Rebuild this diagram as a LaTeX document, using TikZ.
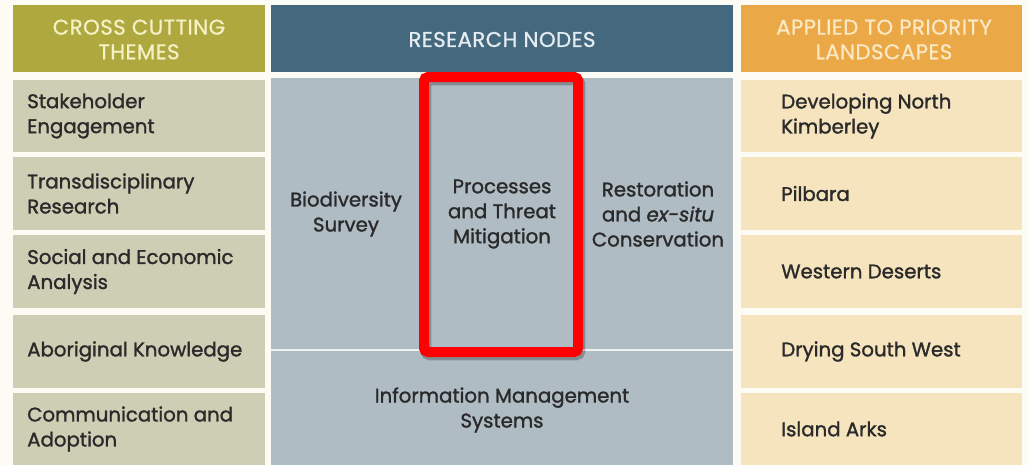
\documentclass[tikz,border=0pt]{standalone}
\usepackage{fontspec}
\setmainfont{Poppins}
\newfontfamily\cellfont{Poppins}[FakeBold=1.4]
\newfontfamily\headfont{Poppins}[FakeBold=0.8, LetterSpace=2]
\usetikzlibrary{positioning}

\definecolor{themehead}{HTML}{AEA83F}
\definecolor{themecell}{HTML}{CECEB5}
\definecolor{nodehead}{HTML}{44697F}
\definecolor{nodecell}{HTML}{B0BCC4}
\definecolor{landhead}{HTML}{EAA846}
\definecolor{landcell}{HTML}{F5E4BE}
\definecolor{themeink}{HTML}{F5F1C6}
\definecolor{nodeink}{HTML}{E6EDF1}
\definecolor{landink}{HTML}{FBE8C4}
\definecolor{bodytext}{HTML}{2A2A2A}
\definecolor{paper}{HTML}{FCFBF4}

\tikzset{
  headtext/.style={align=center, inner sep=0pt, font=\headfont\fontsize{16}{18.5}\selectfont},
  celltext/.style={anchor=west, align=left, text=bodytext, inner sep=0pt,
    font=\cellfont\fontsize{14.8}{18.75}\selectfont},
  midtext/.style={align=center, text=bodytext, inner sep=0pt,
    font=\cellfont\fontsize{14.8}{18.75}\selectfont}
}

\begin{document}
\begin{tikzpicture}[x=0.75pt,y=-0.75pt]
\fill[paper] (0,0) rectangle (1028,465);
\useasboundingbox (0,0) rectangle (1028,465);

% headers
\fill[themehead] (13,5) rectangle (265,72);
\fill[nodehead] (271,5) rectangle (733,72);
\fill[landhead] (741,5) rectangle (1022,72);

% left and right cells
\fill[themecell] (13,80) rectangle (265,152);
\fill[themecell] (13,157) rectangle (265,230);
\fill[themecell] (13,235) rectangle (265,308);
\fill[themecell] (13,315) rectangle (265,388);
\fill[themecell] (13,393) rectangle (265,465);

\fill[landcell] (741,80) rectangle (1022,152);
\fill[landcell] (741,157) rectangle (1022,230);
\fill[landcell] (741,235) rectangle (1022,308);
\fill[landcell] (741,315) rectangle (1022,388);
\fill[landcell] (741,393) rectangle (1022,465);

% research nodes
\fill[nodecell] (271,78) rectangle (733,465);
\draw[white!80!nodecell, line width=1pt] (271,350) -- (733,350);

\node[headtext, text=themeink] (themes) at (139,39.5) {CROSS CUTTING\\THEMES};
\node[headtext, text=nodeink] (nodes) at (502,39.5) {RESEARCH NODES};
\node[headtext, text=landink] (lands) at (884,39.5) {APPLIED TO PRIORITY\\LANDSCAPES};

\node[celltext] (stake) at (27,116) {Stakeholder\\Engagement};
\node[celltext] (trans) at (27,193.5) {Transdisciplinary\\Research};
\node[celltext] (social) at (27,271.5) {Social and Economic\\Analysis};
\node[celltext] (abor) at (27,351.5) {Aboriginal Knowledge};
\node[celltext] (comm) at (27,429) {Communication and\\Adoption};

\node[celltext] (kimb) at (781,116) {Developing North\\Kimberley};
\node[celltext] (pilb) at (781,193.5) {Pilbara};
\node[celltext] (west) at (781,271.5) {Western Deserts};
\node[celltext] (dry) at (781,351.5) {Drying South West};
\node[celltext] (arks) at (781,429) {Island Arks};

\node[midtext] (bio) at (346,214) {Biodiversity\\Survey};
\node[midtext] (proc) at (502,214) {Processes\\and Threat\\Mitigation};
\node[midtext] (rest) at (658,214) {Restoration\\and \textit{ex-situ}\\Conservation};
\node[midtext] (info) at (502,410) {Information Management\\Systems};

% highlight
\draw[black, opacity=0.25, line width=8pt, rounded corners=3pt] (426,80) rectangle (580,355);
\draw[red, line width=7.5pt, rounded corners=3pt] (424,77) rectangle (578,352);
\end{tikzpicture}
\end{document}
